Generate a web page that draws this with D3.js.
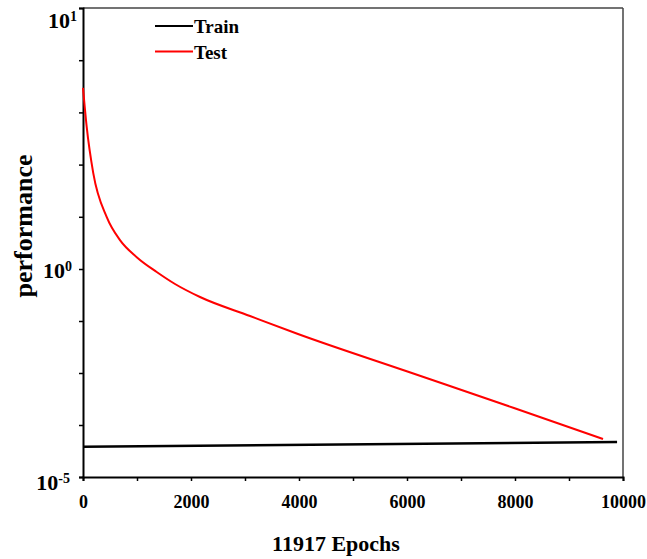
<!DOCTYPE html>
<html>
<head>
<meta charset="utf-8">
<script src="https://cdn.jsdelivr.net/npm/d3@7"></script>
<style>
  body { margin: 0; background: #fff; }
  text { font-family: "Liberation Serif", "Times New Roman", serif; font-weight: bold; }
</style>
</head>
<body>
<div class="chart"></div>
<script>
// data
var trainEpochs = [0, 9890];
var trainPerf = [5.3e-5, 6.9e-5];

var testEpochs = [0, 68, 190, 440, 685, 995, 1365, 1704, 2167, 3093, 3981, 5981, 7981, 9630];
var testPerf = [4.94, 3.51, 2.33, 1.58, 1.29, 1.11, 0.847, 0.436, 0.212, 0.0741, 0.0274, 3.53e-3, 4.56e-4, 8.19e-5];

var xTicks = [0, 2000, 4000, 6000, 8000, 10000];
var xMinor = [1000, 3000, 5000, 7000, 9000];
var yMajor = [1e-5, 1, 10];
var yMajorExp = ["-5", "0", "1"];
var yMinor = [Math.pow(10, 0.2), Math.pow(10, 0.4), Math.pow(10, 0.6), Math.pow(10, 0.8),
              Math.pow(10, -1.25), Math.pow(10, -2.5), Math.pow(10, -3.75)];

var margin = { top: 8, right: 24, bottom: 82, left: 83 };
var width = 647 - margin.left - margin.right;
var height = 559 - margin.top - margin.bottom;

var svg = d3
  .select(".chart")
  .append("svg")
  .attr("width", 647)
  .attr("height", 559)
  .append("g")
  .attr("transform", "translate(" + margin.left + "," + margin.top + ")");

var x = d3.scaleLinear().domain([0, 10000]).range([0, width]);
// the original axis is not one uniform log scale, so it is piecewise
var y = d3.scaleLog().domain([1e-5, 1, 10]).range([height, 261, 0]);

// frame (top / right)
svg.append("line").attr("x1", 0).attr("x2", width).attr("y1", 0).attr("y2", 0)
  .style("stroke", "#444").style("stroke-width", 1.5);
svg.append("line").attr("x1", width).attr("x2", width).attr("y1", 0).attr("y2", height)
  .style("stroke", "#444").style("stroke-width", 1.5);

// X axis
var xAxis = svg.append("g")
  .attr("transform", "translate(0," + height + ")")
  .call(d3.axisBottom(x).tickValues(xTicks.concat(xMinor)).tickSize(4)
    .tickFormat(function (d) { return xTicks.indexOf(d) >= 0 ? d : ""; }));
xAxis.selectAll("text").style("font-size", "18px").attr("y", 31).attr("dy", 0).style("fill", "#000");
xAxis.select(".domain").style("stroke", "#000").style("stroke-width", 2);
xAxis.selectAll(".tick line").style("stroke", "#000").style("stroke-width", 1.5);

// Y axis
var yAxis = svg.append("g")
  .call(d3.axisLeft(y).tickValues(yMajor.concat(yMinor)).tickSize(4).tickFormat(""));
yAxis.select(".domain").style("stroke", "#000").style("stroke-width", 2);
yAxis.selectAll(".tick line").style("stroke", "#000").style("stroke-width", 1.5);

// y tick labels 10^n
var labelShift = [13, 9, 20];
var labelRight = [-13, -11, -6];
yMajor.forEach(function (v, i) {
  var t = svg.append("text")
    .attr("x", labelRight[i])
    .attr("y", y(v) + labelShift[i])
    .attr("text-anchor", "end")
    .style("font-size", "22px");
  t.append("tspan").text("10");
  t.append("tspan").attr("dy", "-0.5em").style("font-size", "14px").text(yMajorExp[i]);
});

// axis labels
svg.append("text")
  .attr("text-anchor", "middle")
  .attr("x", 253)
  .attr("y", height + 74)
  .style("font-size", "22px")
  .text("11917 Epochs");

svg.append("text")
  .attr("text-anchor", "middle")
  .attr("transform", "translate(-51," + 218 + ") rotate(-90)")
  .style("font-size", "26px")
  .text("performance");

// lines
var trainData = trainEpochs.map(function (e, i) { return { e: e, v: trainPerf[i] }; });
var testData = testEpochs.map(function (e, i) { return { e: e, v: testPerf[i] }; });

var line = d3.line()
  .x(function (d) { return x(d.e); })
  .y(function (d) { return y(d.v); })
  .curve(d3.curveMonotoneX);

svg.append("path")
  .datum(trainData)
  .attr("d", line)
  .style("fill", "none")
  .style("stroke", "#000")
  .style("stroke-width", 2.5);

svg.append("path")
  .datum(testData)
  .attr("d", line)
  .style("fill", "none")
  .style("stroke", "#ff0000")
  .style("stroke-width", 2);

// legend
var legendNames = ["Train", "Test"];
var legendColors = ["#000", "#ff0000"];
legendNames.forEach(function (name, i) {
  var ly = 18 + i * 25.5;
  svg.append("line")
    .attr("x1", 72).attr("x2", 110)
    .attr("y1", ly).attr("y2", ly)
    .style("stroke", legendColors[i])
    .style("stroke-width", 2);
  svg.append("text")
    .attr("x", 111)
    .attr("y", ly + 7)
    .style("font-size", "19px")
    .text(name);
});
</script>
</body>
</html>
